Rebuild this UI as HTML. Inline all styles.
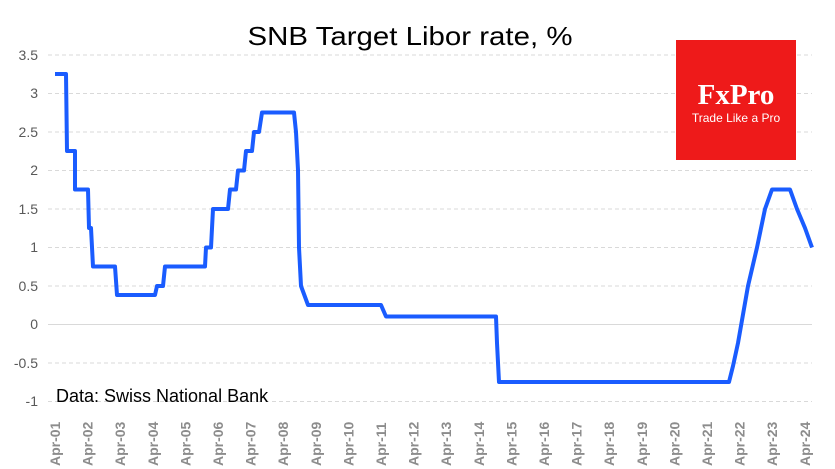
<!DOCTYPE html>
<html><head><meta charset="utf-8"><style>
body{margin:0;background:#fff;}
svg{display:block;font-family:"Liberation Sans",sans-serif;}
</style></head><body>
<svg width="835" height="469" viewBox="0 0 835 469">
<g stroke="#d9d9d9" stroke-width="1" stroke-dasharray="4,3">
<line x1="48" x2="812" y1="55" y2="55"/><line x1="48" x2="812" y1="93.5" y2="93.5"/>
<line x1="48" x2="812" y1="132" y2="132"/><line x1="48" x2="812" y1="170.5" y2="170.5"/>
<line x1="48" x2="812" y1="209" y2="209"/><line x1="48" x2="812" y1="247.5" y2="247.5"/>
<line x1="48" x2="812" y1="286" y2="286"/><line x1="48" x2="812" y1="363" y2="363"/>
<line x1="48" x2="812" y1="401.5" y2="401.5"/>
</g>
<line x1="48" x2="812" y1="324.5" y2="324.5" stroke="#d9d9d9"/>
<g fill="#595959" font-size="14" text-anchor="end">
<text x="38" y="60">3.5</text><text x="38" y="98">3</text><text x="38" y="137">2.5</text>
<text x="38" y="175">2</text><text x="38" y="214">1.5</text><text x="38" y="252">1</text>
<text x="38" y="291">0.5</text><text x="38" y="329">0</text><text x="38" y="368">-0.5</text>
<text x="38" y="406">-1</text>
</g>
<text x="410" y="45" font-size="26" text-anchor="middle" fill="#000" textLength="325" lengthAdjust="spacingAndGlyphs">SNB Target Libor rate, %</text>
<g fill="#8c8c8c" font-size="14" font-weight="bold">
<text transform="translate(60,466) rotate(-90)">Apr-01</text>
<text transform="translate(92.6,466) rotate(-90)">Apr-02</text>
<text transform="translate(125.2,466) rotate(-90)">Apr-03</text>
<text transform="translate(157.8,466) rotate(-90)">Apr-04</text>
<text transform="translate(190.4,466) rotate(-90)">Apr-05</text>
<text transform="translate(223,466) rotate(-90)">Apr-06</text>
<text transform="translate(255.6,466) rotate(-90)">Apr-07</text>
<text transform="translate(288.2,466) rotate(-90)">Apr-08</text>
<text transform="translate(320.8,466) rotate(-90)">Apr-09</text>
<text transform="translate(353.4,466) rotate(-90)">Apr-10</text>
<text transform="translate(386,466) rotate(-90)">Apr-11</text>
<text transform="translate(418.6,466) rotate(-90)">Apr-12</text>
<text transform="translate(451.2,466) rotate(-90)">Apr-13</text>
<text transform="translate(483.8,466) rotate(-90)">Apr-14</text>
<text transform="translate(516.4,466) rotate(-90)">Apr-15</text>
<text transform="translate(549,466) rotate(-90)">Apr-16</text>
<text transform="translate(581.6,466) rotate(-90)">Apr-17</text>
<text transform="translate(614.2,466) rotate(-90)">Apr-18</text>
<text transform="translate(646.8,466) rotate(-90)">Apr-19</text>
<text transform="translate(679.4,466) rotate(-90)">Apr-20</text>
<text transform="translate(712,466) rotate(-90)">Apr-21</text>
<text transform="translate(744.6,466) rotate(-90)">Apr-22</text>
<text transform="translate(777.2,466) rotate(-90)">Apr-23</text>
<text transform="translate(809.8,466) rotate(-90)">Apr-24</text>
</g>
<polyline fill="none" stroke="#1a5cff" stroke-width="4" stroke-linejoin="round" points="
55,74 66,74 67,151 75,151 75,189.5 88,189.5 89,228 91,228 93,266.5 115,266.5 117,295 155,295 157,286 163,286 165,266.5 205,266.5 206,247.5 211,247.5 213,209 228,209 230,189.5 236,189.5 238,170.5 244,170.5 246,151 252,151 254,132 259,132 262,112.5 294,112.5 296,132 298,170 299,247.5 301,286 308,305 381,305 386,316.5 496,316.5 497,343 499,382 729,382 733,366 738,343 748,286 757,247.5 765,209 772,189.5 790,189.5 797,209 805,228 812,247.5"/>
<text x="56" y="402" font-size="18" fill="#000">Data: Swiss National Bank</text>
<rect x="676" y="40" width="120" height="120" fill="#ee1a1a"/>
<text x="736" y="104" font-size="29" font-weight="bold" fill="#fff" text-anchor="middle" font-family="Liberation Serif, serif">FxPro</text>
<text x="736" y="122" font-size="12" fill="#fff" text-anchor="middle">Trade Like a Pro</text>
</svg>
</body></html>
